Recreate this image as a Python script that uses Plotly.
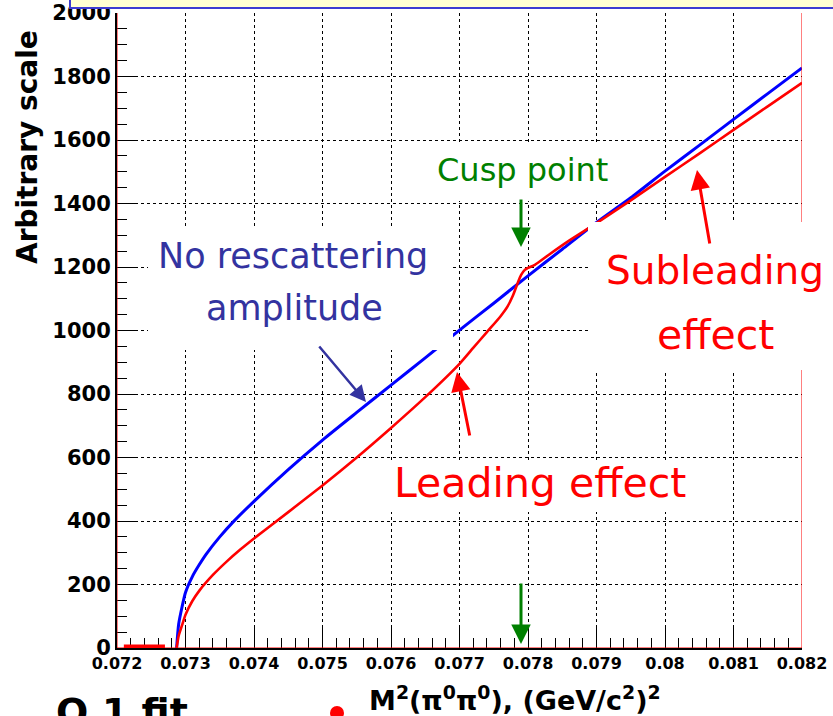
import plotly.graph_objects as go

# ---------------- data ----------------
x_blue = [0.07287, 0.0729, 0.07295, 0.0730, 0.0731, 0.0732, 0.0733, 0.0735, 0.0737,
          0.0740, 0.0745, 0.0750, 0.0755, 0.0760, 0.0765, 0.0770, 0.0775, 0.0780,
          0.0785, 0.0790, 0.0795, 0.0800, 0.0805, 0.0810, 0.0815, 0.0820]
y_blue = [0, 75, 130, 175, 225, 262, 295, 350, 398,
          462, 562, 655, 742, 828, 914, 1001, 1086, 1172,
          1256, 1340, 1418, 1502, 1583, 1665, 1746, 1827]

# red series: flat part below threshold, then the curve with the cusp
x_red_flat = [0.0721, 0.0727]
y_red_flat = [0, 0]
x_red = [0.07287, 0.0729, 0.07295, 0.0730, 0.0731, 0.0732, 0.0734, 0.0736, 0.0738,
         0.0740, 0.0745, 0.0750, 0.0755, 0.0760, 0.0765, 0.0770, 0.0772, 0.0774,
         0.0776, 0.0777, 0.07778, 0.07785, 0.0779, 0.07795, 0.0780, 0.0781, 0.0783,
         0.0786, 0.0790, 0.0795, 0.0800, 0.0805, 0.0810, 0.0815, 0.0820]
y_red = [0, 38, 72, 105, 148, 180, 230, 272, 310,
         345, 428, 512, 600, 693, 790, 895, 945, 995,
         1045, 1075, 1110, 1150, 1175, 1190, 1197, 1207, 1238,
         1283, 1338, 1410, 1484, 1557, 1632, 1706, 1780]

x_tickvals = [0.072, 0.073, 0.074, 0.075, 0.076, 0.077, 0.078, 0.079, 0.080, 0.081, 0.082]
x_ticktext = ["0.072", "0.073", "0.074", "0.075", "0.076", "0.077", "0.078", "0.079",
              "0.08", "0.081", "0.082"]
y_tickvals = [0, 200, 400, 600, 800, 1000, 1200, 1400, 1600, 1800, 2000]
y_ticktext = ["0", "200", "400", "600", "800", "1000", "1200", "1400", "1600", "1800", "2000"]

# ---------------- layout geometry ----------------
W, H = 833, 716
L, R, T, B = 117, 31, 13, 68
PW, PH = W - L - R, H - T - B


def P(px, py):
    return (px - L) / PW, (H - B - py) / PH


fig = go.Figure()
fig.add_trace(go.Scatter(x=x_blue, y=y_blue, mode="lines",
                         line=dict(color="rgb(0,0,255)", width=3, shape="spline", smoothing=0.6),
                         showlegend=False))
fig.add_trace(go.Scatter(x=x_red_flat, y=y_red_flat, mode="lines",
                         line=dict(color="rgb(255,0,0)", width=7), showlegend=False))
fig.add_trace(go.Scatter(x=x_red, y=y_red, mode="lines",
                         line=dict(color="rgb(255,0,0)", width=2.6, shape="spline", smoothing=0.6),
                         showlegend=False))

tickfont_x = dict(family="DejaVu Sans", size=16, color="black", weight="bold")
tickfont_y = dict(family="DejaVu Sans", size=21, color="black", weight="bold")

fig.update_layout(
    width=W, height=H, margin=dict(l=L, r=R, t=T, b=B, pad=0),
    paper_bgcolor="white", plot_bgcolor="white", showlegend=False,
    xaxis=dict(range=[0.072, 0.082], tickmode="array", tickvals=x_tickvals, ticktext=x_ticktext,
               ticks="inside", ticklen=20, tickwidth=1, tickcolor="black",
               showgrid=True, gridcolor="black", gridwidth=1, griddash="dot",
               showline=True, linecolor="black", linewidth=2, zeroline=False,
               tickfont=tickfont_x, automargin=False, layer="below traces",
               minor=dict(ticks="inside", ticklen=10, tickcolor="black", tick0=0.072,
                          dtick=0.0002, showgrid=False)),
    yaxis=dict(range=[0, 2000], tickmode="array", tickvals=y_tickvals, ticktext=y_ticktext,
               ticks="inside", ticklen=20, tickwidth=1, tickcolor="black",
               showgrid=True, gridcolor="black", gridwidth=1, griddash="dot",
               showline=True, linecolor="black", linewidth=2, zeroline=False,
               tickfont=tickfont_y, automargin=False, layer="below traces",
               minor=dict(ticks="inside", ticklen=10, tickcolor="black", tick0=0,
                          dtick=50, showgrid=False)),
)

shapes = []
# red frame (left, bottom, right)
for (x0, y0, x1, y1) in [(0.072, 0, 0.072, 2000), (0.072, 0, 0.082, 0), (0.082, 0, 0.082, 2000)]:
    shapes.append(dict(type="line", xref="x", yref="y", x0=x0, y0=y0, x1=x1, y1=y1,
                       line=dict(color="rgb(255,0,0)", width=1), layer="above"))


def white_box(px0, py0, px1, py1):
    a0, b0 = P(px0, py1)
    a1, b1 = P(px1, py0)
    shapes.append(dict(type="rect", xref="paper", yref="paper", x0=a0, y0=b0, x1=a1, y1=b1,
                       fillcolor="white", line=dict(width=0), layer="above"))


white_box(148, 228, 453, 350)     # "No rescattering amplitude"
white_box(430, 145, 615, 201)     # "Cusp point"
white_box(588, 222, 833, 370)     # "Subleading effect"
white_box(385, 460, 695, 512)     # "Leading effect"

# slide title strip at the top
a0, _ = P(70, 0)
_, b0 = P(0, 8)
shapes.append(dict(type="rect", xref="paper", yref="paper", x0=a0, y0=b0, x1=P(840, 0)[0],
                   y1=P(0, -10)[1], fillcolor="rgb(255,255,210)",
                   line=dict(color="rgb(60,60,210)", width=2), layer="above"))
# red bullet fragment at the bottom
cx0, cy0 = P(330, 706)
cx1, cy1 = P(344, 720)
shapes.append(dict(type="circle", xref="paper", yref="paper", x0=cx0, y0=cy1, x1=cx1, y1=cy0,
                   fillcolor="rgb(255,0,0)", line=dict(width=0), layer="above"))
fig.update_layout(shapes=shapes)

ann = []


def text(px, py, s, size, color, family="DejaVu Sans", weight="normal", angle=0):
    x, y = P(px, py)
    ann.append(dict(x=x, y=y, xref="paper", yref="paper", text=s, showarrow=False,
                    xanchor="center", yanchor="middle", textangle=angle,
                    font=dict(family=family, size=size, color=color, weight=weight)))


def arrow(hx, hy, tx, ty, color, width):
    x, y = P(hx, hy)
    ann.append(dict(x=x, y=y, xref="paper", yref="paper", text="", showarrow=True,
                    ax=tx - hx, ay=ty - hy, axref="pixel", ayref="pixel",
                    arrowhead=2, arrowsize=1.3, arrowwidth=width, arrowcolor=color,
                    standoff=0, startstandoff=0))


GREEN = "rgb(0,128,0)"
NAVY = "rgb(51,51,160)"
RED = "rgb(255,0,0)"

text(522, 170, "Cusp point", 32, GREEN)
text(293, 256, "No rescattering", 35, NAVY)
text(294, 308, "amplitude", 35, NAVY)
text(715, 270, "Subleading", 39, RED)
text(715, 335, "effect", 41, RED)
text(540, 483, "Leading effect", 41, RED)

arrow(521, 247, 521, 198, GREEN, 3)
arrow(521, 644, 521, 582, GREEN, 3)
arrow(366, 402, 318, 345, NAVY, 2.5)
arrow(457, 372, 470, 437, RED, 3)
arrow(697, 170, 710, 245, RED, 3)

# axis titles
text(27, 147, "Arbitrary scale", 28, "black", weight="bold", angle=-90)
text(515, 699, "M<sup>2</sup>(π<sup>0</sup>π<sup>0</sup>), (GeV/c<sup>2</sup>)<sup>2</sup>", 27,
     "black", weight="bold")
# cut-off slide text at the bottom left
text(122, 712, "O.1 fit", 38, "black", weight="bold")

fig.update_layout(annotations=ann)
fig.write_html("out.html", config={"displayModeBar": False},
               post_script="document.body.style.margin='0';document.body.style.padding='0';"
                           "document.body.style.overflow='hidden';")
